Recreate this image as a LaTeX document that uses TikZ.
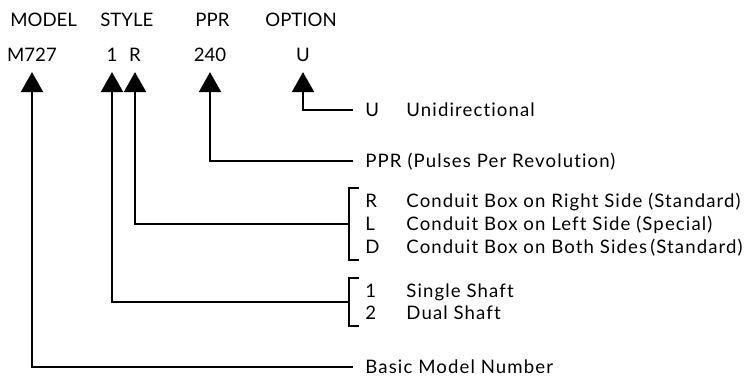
\documentclass[tikz,border=0pt]{standalone}
\usepackage{fontspec}
\setmainfont{Lato}
\newfontfamily\descfont{Lato}[LetterSpace=6, Ligatures=NoCommon]
\usetikzlibrary{arrows.meta,positioning}

\tikzset{
  lbl/.style={inner sep=3pt, text height=6.7pt, text depth=0pt, font=\fontsize{9.3}{11}\selectfont},
  key/.style={lbl, anchor=west},
  desc/.style={key, font=\descfont\fontsize{9.3}{11}\selectfont},
  arr/.style={line width=1pt, -{Triangle[length=10pt,width=11pt]}, shorten >=2pt},
  brk/.style={line width=1pt}
}

\begin{document}
\begin{tikzpicture}[x=0.5pt,y=-0.5pt]
\useasboundingbox (0,0) rectangle (752,377);
% headings
\node (hdModel) [key] at (4,20) {MODEL};
\node (hdStyle) [key] at (94,20) {STYLE};
\node (hdPpr) [key] at (189,20) {PPR};
\node (hdOption) [key] at (259,20) {OPTION};
% example code
\node (cdModel) [lbl] at (32,55) {M727};
\node (cdOne) [lbl] at (112,55) {1};
\node (cdR) [lbl] at (135,55) {R};
\node (cdPpr) [lbl] at (210,55) {240};
\node (cdU) [lbl] at (303,55) {U};
% keys
\node (keyU) [key] at (359,110) {U};
\node (txtU) [desc] at (400,110) {Unidirectional};
\node (txtPpr) [desc] at (359,161) {PPR (Pulses Per Revolution)};
\node (keyR) [key] at (359,201) {R};
\node (txtR) [desc] at (400,201) {Conduit Box on Right Side (Standard)};
\node (keyL) [key] at (359,224) {L};
\node (txtL) [desc] at (400,224) {Conduit Box on Left Side (Special)};
\node (keyD) [key] at (359,247) {D};
\node (txtD) [desc] at (400,247) {Conduit Box on Both Sides\,(Standard)};
\node (keyOne) [key] at (359,291) {1};
\node (txtOne) [desc] at (400,291) {Single Shaft};
\node (keyTwo) [key] at (359,313) {2};
\node (txtTwo) [desc] at (400,313) {Dual Shaft};
\node (txtBasic) [desc] at (359,367) {Basic Model Number};
% brackets
\draw[brk] (keyR.north west) -- ++(-5pt,0) |- (keyD.south west);
\draw[brk] (keyOne.north west) -- ++(-5pt,0) |- (keyTwo.south west);
\path ([xshift=-5pt]keyOne.west) -- ([xshift=-5pt]keyTwo.west) coordinate[pos=0.5] (brShaft);
% connectors
\draw[arr, shorten <=3pt] (keyU.west) -| (cdU.south);
\draw[arr, shorten <=3pt] (txtPpr.west) -| (cdPpr.south);
\draw[arr] ([xshift=-5pt]keyL.west) -| (cdR.south);
\draw[arr] (brShaft) -| (cdOne.south);
\draw[arr, shorten <=3pt] (txtBasic.west) -| (cdModel.south);
\end{tikzpicture}
\end{document}
